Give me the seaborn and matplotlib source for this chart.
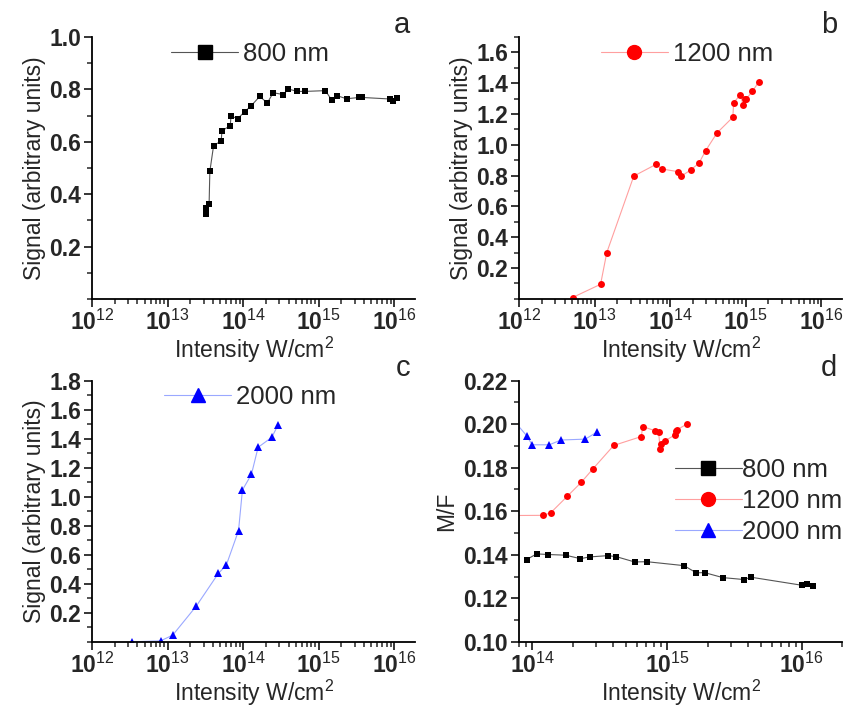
import numpy as np
import pandas as pd
import matplotlib
matplotlib.use("Agg")
import matplotlib.pyplot as plt
import matplotlib.ticker as mticker
from matplotlib.lines import Line2D
import seaborn as sns

sns.set_style("white")
plt.rcParams["font.family"] = ["Liberation Sans", "DejaVu Sans"]
plt.rcParams["mathtext.fontset"] = "custom"
plt.rcParams["mathtext.rm"] = "Liberation Sans"
plt.rcParams["mathtext.bf"] = "Liberation Sans:bold"

# panel a: 800 nm signal
int_800 = [3.21e13, 3.21e13, 3.55e13, 3.63e13, 4.07e13, 5.13e13, 5.25e13, 6.76e13, 6.92e13,
           8.51e13, 1.05e14, 1.26e14, 1.66e14, 2.09e14, 2.51e14, 3.39e14, 3.98e14, 5.25e14,
           6.61e14, 1.23e15, 1.48e15, 1.74e15, 2.34e15, 3.47e15, 3.72e15, 8.91e15, 9.77e15, 1.10e16]
sig_800 = [0.347, 0.325, 0.363, 0.487, 0.585, 0.603, 0.642, 0.661, 0.698,
           0.688, 0.715, 0.735, 0.773, 0.748, 0.787, 0.780, 0.801, 0.792,
           0.792, 0.795, 0.760, 0.776, 0.764, 0.769, 0.769, 0.763, 0.757, 0.766]

# panel b: 1200 nm signal
int_1200 = [5.1e12, 1.2e13, 1.45e13, 3.3e13, 6.5e13, 7.8e13, 1.26e14, 1.41e14, 1.86e14, 2.4e14,
            2.95e14, 4.17e14, 6.76e14, 6.92e14, 8.5e14, 9.3e14, 9.8e14, 1.02e15, 1.23e15, 1.48e15]
sig_1200 = [0.009, 0.095, 0.301, 0.797, 0.873, 0.843, 0.826, 0.797, 0.836, 0.880,
            0.962, 1.077, 1.179, 1.272, 1.326, 1.255, 1.298, 1.298, 1.348, 1.406]

# panel c: 2000 nm signal
int_2000 = [3.4e12, 8.1e12, 1.17e13, 2.4e13, 4.7e13, 6.0e13, 8.7e13, 9.8e13, 1.29e14, 1.58e14, 2.4e14, 2.9e14]
sig_2000 = [0.0, 0.007, 0.046, 0.246, 0.471, 0.529, 0.766, 1.046, 1.154, 1.340, 1.409, 1.494]

# panel d: M/F ratio
mf_int_800 = [9.1e13, 1.08e14, 1.32e14, 1.77e14, 2.28e14, 2.67e14, 3.66e14, 4.22e14, 5.75e14, 7.11e14,
              1.34e15, 1.65e15, 1.90e15, 2.60e15, 3.74e15, 4.19e15, 1.0e16, 1.09e16, 1.22e16]
mf_800 = [0.1378, 0.1404, 0.1401, 0.1398, 0.1382, 0.1390, 0.1396, 0.1391, 0.1367, 0.1368,
          0.1350, 0.1317, 0.1318, 0.1295, 0.1286, 0.1297, 0.1260, 0.1266, 0.1257]
mf_int_1200 = [6.5e13, 1.2e14, 1.37e14, 1.82e14, 2.31e14, 2.83e14, 4.03e14, 6.46e14, 6.61e14, 8.2e14,
               8.67e14, 8.91e14, 9.08e14, 9.73e14, 1.15e15, 1.17e15, 1.19e15, 1.42e15]
mf_1200 = [0.158, 0.1581, 0.1592, 0.1668, 0.1732, 0.1795, 0.1902, 0.1943, 0.1989, 0.1969,
           0.1963, 0.1887, 0.1908, 0.1924, 0.1951, 0.1969, 0.1974, 0.2002]
mf_int_2000 = [7.0e13, 9.1e13, 1.0e14, 1.34e14, 1.64e14, 2.48e14, 3.02e14]
mf_2000 = [0.203, 0.1947, 0.1905, 0.1905, 0.1927, 0.1931, 0.1963]

styles = {
    "800 nm": dict(marker="s", color="black", line="#555555", ms=4.5),
    "1200 nm": dict(marker="o", color="red", line="#ff9f9f", ms=5),
    "2000 nm": dict(marker="^", color="blue", line="#9aa8ff", ms=5.5),
}


def draw_series(ax, x, y, name):
    st = styles[name]
    df = pd.DataFrame({"x": x, "y": y})
    sns.lineplot(data=df, x="x", y="y", sort=False, estimator=None, color=st["line"],
                 lw=0.8, ax=ax)
    sns.lineplot(data=df, x="x", y="y", sort=False, estimator=None, color=st["color"],
                 lw=0, marker=st["marker"], markersize=st["ms"], markeredgewidth=0, ax=ax)


def legend_handle(name):
    st = styles[name]
    return Line2D([], [], color=st["line"], lw=0.8, marker=st["marker"],
                  markerfacecolor=st["color"], markeredgecolor=st["color"], markersize=10)


def log_fmt(v, pos):
    e = int(round(np.log10(v)))
    return r"$\mathbf{10}^{%d}$" % e


def style_axes(ax, ylim, ymaj, ymin_step, yfmt, xlim, letter):
    ax.set_xscale("log")
    ax.set_xlim(*xlim)
    ax.set_ylim(*ylim)
    ax.xaxis.set_major_locator(mticker.FixedLocator([1e12, 1e13, 1e14, 1e15, 1e16]))
    ax.xaxis.set_minor_locator(mticker.LogLocator(base=10, subs=np.arange(2, 10), numticks=20))
    ax.xaxis.set_major_formatter(mticker.FuncFormatter(log_fmt))
    ax.xaxis.set_minor_formatter(mticker.NullFormatter())
    ax.yaxis.set_major_locator(mticker.FixedLocator(ymaj))
    ax.yaxis.set_minor_locator(mticker.MultipleLocator(ymin_step))
    ax.yaxis.set_major_formatter(mticker.FormatStrFormatter(yfmt))
    for s in ["top", "right"]:
        ax.spines[s].set_visible(False)
    for s in ["left", "bottom"]:
        ax.spines[s].set_linewidth(1.3)
        ax.spines[s].set_color("black")
    ax.tick_params(which="major", direction="out", length=6, width=1.3, labelsize=16.5,
                   left=True, bottom=True, pad=2)
    ax.tick_params(which="minor", direction="out", length=3.5, width=1.1, left=True, bottom=True)
    for lab in ax.get_yticklabels():
        lab.set_fontweight("bold")
    ax.set_xlabel("Intensity W/cm$^2$", fontsize=16.5, labelpad=0)
    ax.text(0.985, 1.1, letter, transform=ax.transAxes, fontsize=21, ha="right", va="top")


fig = plt.figure(figsize=(8.44, 7.10), dpi=100)
ax_a = fig.add_axes([0.109, 0.579, 0.383, 0.369])
ax_b = fig.add_axes([0.615, 0.579, 0.383, 0.369])
ax_c = fig.add_axes([0.109, 0.096, 0.383, 0.368])
ax_d = fig.add_axes([0.615, 0.096, 0.383, 0.368])

xr = (1e12, 1.9e16)
leg_kw = dict(frameon=False, fontsize=18.5, handlelength=2.6, handletextpad=0.2)

draw_series(ax_a, int_800, sig_800, "800 nm")
style_axes(ax_a, (0, 1.0), [0.2, 0.4, 0.6, 0.8, 1.0], 0.1, "%.1f", xr, "a")
ax_a.set_ylabel("Signal (arbitrary units)", fontsize=16.5, labelpad=2)
ax_a.legend(handles=[legend_handle("800 nm")], labels=["800 nm"], loc="upper center",
            bbox_to_anchor=(0.49, 1.07), **leg_kw)

draw_series(ax_b, int_1200, sig_1200, "1200 nm")
style_axes(ax_b, (0, 1.7), [0.2, 0.4, 0.6, 0.8, 1.0, 1.2, 1.4, 1.6], 0.1, "%.1f", xr, "b")
ax_b.set_ylabel("Signal (arbitrary units)", fontsize=16.5, labelpad=2)
ax_b.legend(handles=[legend_handle("1200 nm")], labels=["1200 nm"], loc="upper center",
            bbox_to_anchor=(0.52, 1.07), **leg_kw)

draw_series(ax_c, int_2000, sig_2000, "2000 nm")
style_axes(ax_c, (0, 1.8), [0.2, 0.4, 0.6, 0.8, 1.0, 1.2, 1.4, 1.6, 1.8], 0.1, "%.1f", xr, "c")
ax_c.set_ylabel("Signal (arbitrary units)", fontsize=16.5, labelpad=2)
ax_c.legend(handles=[legend_handle("2000 nm")], labels=["2000 nm"], loc="upper center",
            bbox_to_anchor=(0.49, 1.07), **leg_kw)

draw_series(ax_d, mf_int_800, mf_800, "800 nm")
draw_series(ax_d, mf_int_1200, mf_1200, "1200 nm")
draw_series(ax_d, mf_int_2000, mf_2000, "2000 nm")
style_axes(ax_d, (0.10, 0.22), [0.10, 0.12, 0.14, 0.16, 0.18, 0.20, 0.22], 0.01, "%.2f",
           (8e13, 2e16), "d")
ax_d.set_ylabel("M/F", fontsize=16.5, labelpad=4)
names = ["800 nm", "1200 nm", "2000 nm"]
ax_d.legend(handles=[legend_handle(n) for n in names], labels=names, loc="center right",
            bbox_to_anchor=(1.07, 0.54), frameon=False, fontsize=18.5, handlelength=2.6,
            handletextpad=0.0, labelspacing=0.28)

fig.savefig("out.png", dpi=100)
